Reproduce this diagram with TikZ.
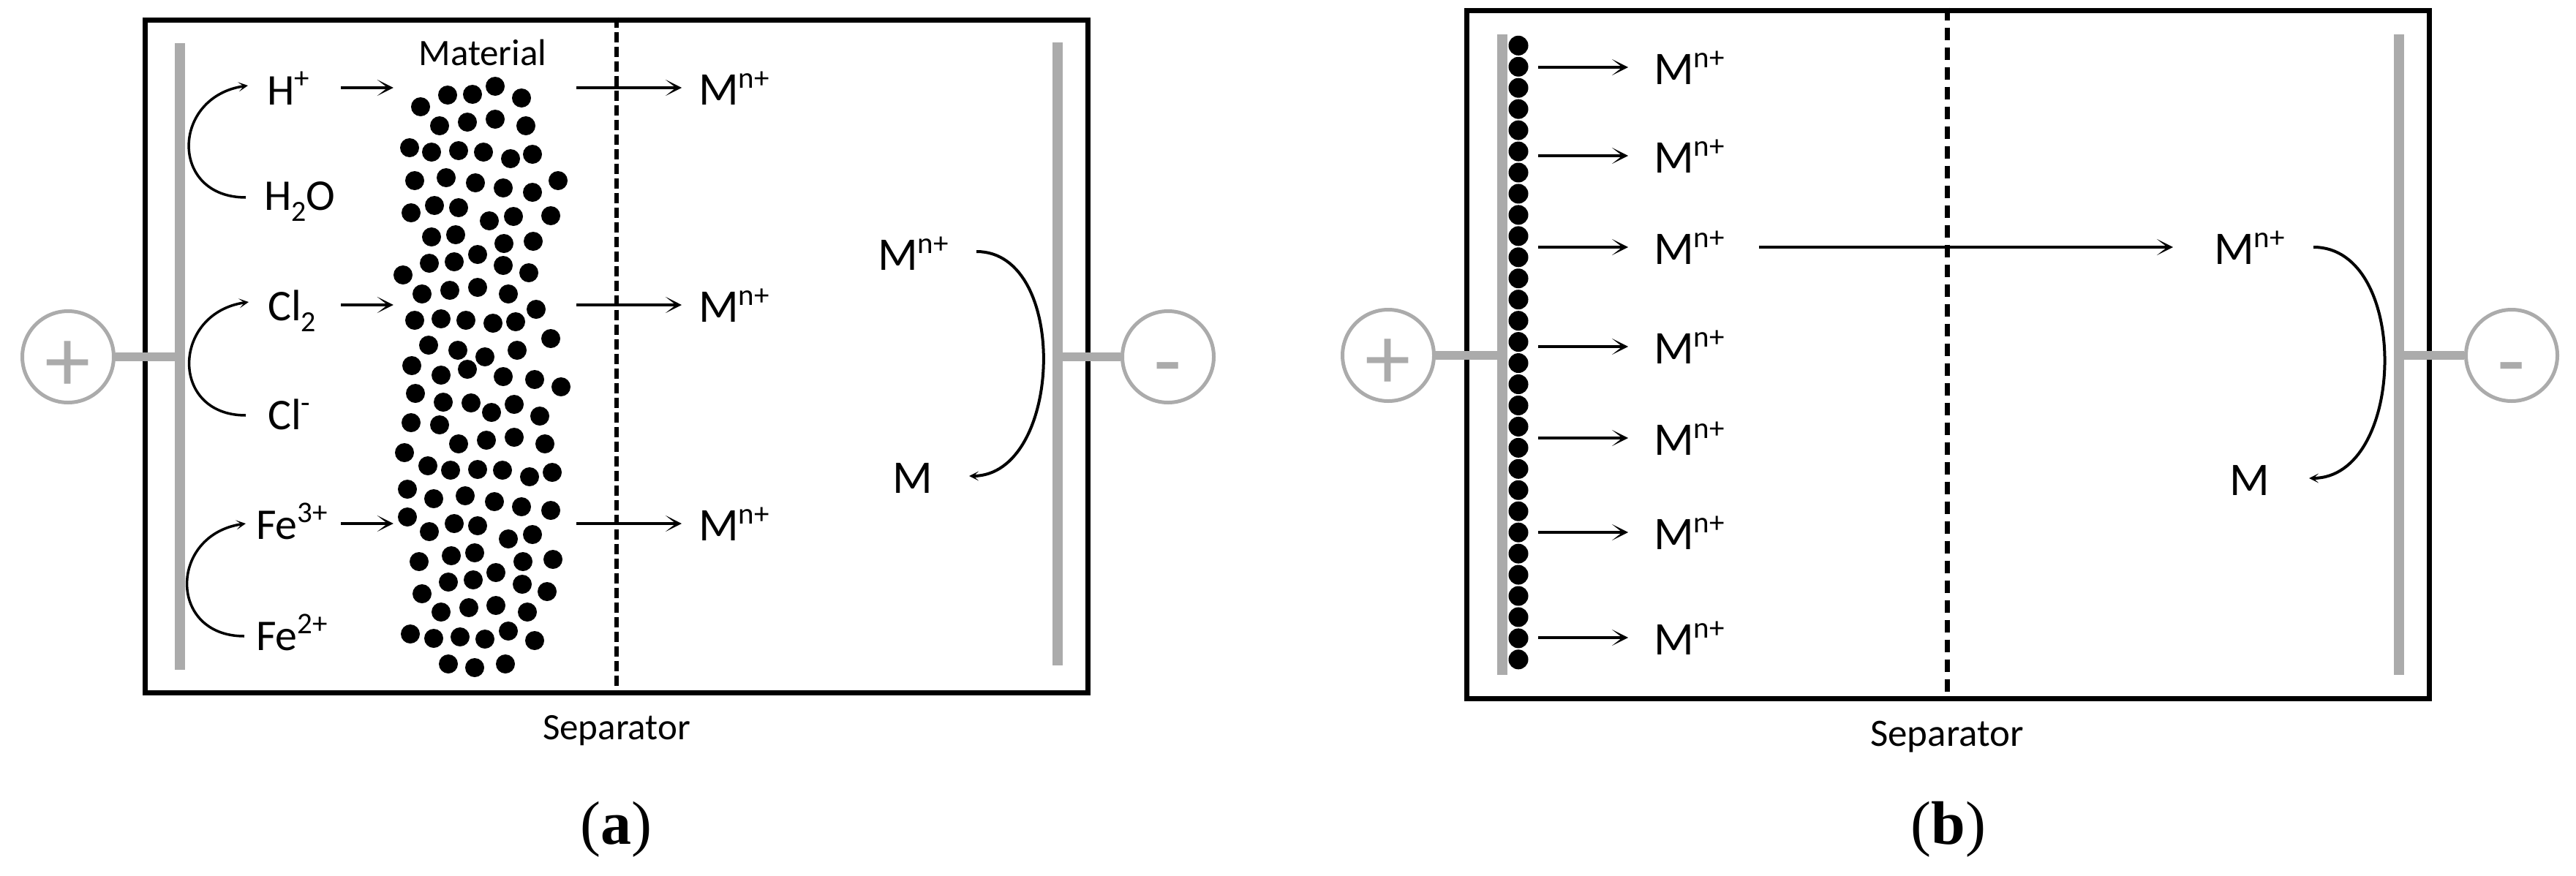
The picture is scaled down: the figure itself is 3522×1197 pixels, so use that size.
\documentclass[tikz,border=0pt]{standalone}
\usepackage{fontspec}
\setmainfont{Carlito}
\newfontfamily\capfont{Liberation Serif}
\usetikzlibrary{arrows.meta}
\definecolor{rodgray}{HTML}{ABABAB}
\newcommand{\ionup}[1]{\raisebox{23pt}{\fontsize{41}{41}\selectfont #1}}
\newcommand{\iondn}[1]{\raisebox{-15pt}{\fontsize{40}{40}\selectfont #1}}
\newcommand{\Mion}{M\ionup{n+}}
\tikzset{
  frame/.style={draw=black,line width=7pt,inner sep=0pt},
  rod/.style={fill=rodgray,inner sep=0pt,minimum width=14pt},
  lead/.style={draw=rodgray,line width=12pt},
  term/.style={circle,draw=rodgray,fill=white,line width=5pt,inner sep=0pt,minimum size=125pt},
  sign/.style={text=rodgray,inner sep=0pt,font=\fontsize{125}{125}\selectfont},
  ion/.style={anchor=west,inner sep=0pt,text height=46pt,text depth=0pt,font=\fontsize{60}{70}\selectfont},
  mion/.style={ion,font=\fontsize{64}{70}\selectfont},
  note/.style={inner sep=0pt,font=\fontsize{51}{60}\selectfont},
  sepline/.style={line width=6pt,dash pattern=on 14pt off 6pt},
  flow/.style={line width=4.5pt,-{Stealth[length=22pt,width=22pt,inset=14pt]}},
  turn/.style={line width=3.5pt,-{Stealth[length=13pt,width=13pt,inset=7pt]}},
  tag/.style={inner sep=0pt,font=\capfont\fontsize{84}{90}\selectfont}
}
\begin{document}
\begin{tikzpicture}[x=1pt,y=-1pt]
\useasboundingbox (0,0) rectangle (3522,1197);
\node[rod,minimum height=852pt] (ra2) at (1446,484) {};
\node[frame,minimum width=1289pt,minimum height=920pt] (fa) at (842.5,487) {};
\node[rod,minimum height=857pt] (ra1) at (246,487.5) {};
\node[term] (pa) at (93,488) {};
\node[sign] at (93,501) {+};
\node[term] (na) at (1597,488) {};
\node[sign] at (1597,516) {-};
\draw[lead] (pa) -- (pa -| ra1);
\draw[lead] (na) -- (na -| ra2);
\node[note] (sa) at (843,999) {Separator};
\draw[sepline] (fa.north -| sa) -- (fa.south -| sa);
\node[note] (mlabel) at (660,72) {Material};
\node[minimum width=250pt,minimum height=800pt,inner sep=0pt] (mat) at (663,510) {};
\foreach \p in {(575,146),(612,130),(646,129),(677,118),(713,134),
  (601,172),(639,167),(677,163),(719,172),
  (560,202),(590,208),(627,206),(661,208),(698,217),(728,211),
  (567,247),(610,243),(650,250),(688,257),(728,263),(763,247),
  (562,291),(594,281),(627,284),(669,302),(702,296),(753,295),
  (590,324),(623,321),(689,333),(729,330),
  (587,360),(621,358),(653,348),(688,363),(723,373),(551,376),
  (577,402),(615,397),(653,393),(695,402),(733,423),
  (567,438),(603,436),(637,438),(674,442),(705,440),(753,463),
  (586,472),(626,479),(663,488),(707,479),
  (563,500),(603,513),(639,505),(688,515),(731,519),(767,529),
  (568,538),(606,550),(644,551),(672,564),(703,553),(738,569),
  (562,578),(601,581),(627,607),(665,602),(703,598),(745,607),
  (553,619),(585,637),(616,643),(653,642),(687,643),(724,652),(755,646),
  (557,669),(593,682),(636,678),(676,686),(713,693),(753,698),
  (557,707),(587,727),(621,716),(653,719),(695,737),(728,731),
  (573,768),(617,760),(649,756),(715,768),(756,765),
  (613,796),(647,793),(678,783),(714,799),(748,809),(577,812),
  (603,837),(641,831),(678,828),(721,837),
  (561,867),(593,873),(629,871),(663,874),(695,863),(731,876),
  (613,908),(649,913),(691,908)}
  \fill \p circle (13);
\coordinate (inl) at (466,0);
\node[ion] (hp) at (365,120) {H\ionup{+}};
\node[ion] (hw) at (361,264) {H\iondn{2}O};
\node[ion,text height=42pt] (clt) at (366,417) {Cl\iondn{2}};
\node[ion] (clb) at (366,564) {Cl\ionup{-}};
\node[ion,text height=42pt] (fet) at (350,716) {Fe\ionup{3+}};
\node[ion] (feb) at (350,866) {Fe\ionup{2+}};
\foreach \a in {hp,clt,fet}
  \draw[flow] (inl |- \a.east) -- (mat.west |- \a.east);
\draw[turn] ([shift={(-25pt,-6pt)}]hw.west) .. controls +(-105,0) and +(-105,15) .. ([shift={(-26pt,3pt)}]hp.west);
\draw[turn] ([shift={(-30pt,-4pt)}]clb.west) .. controls +(-105,0) and +(-105,15) .. ([shift={(-26pt,4pt)}]clt.west);
\draw[turn] ([shift={(-16pt,-4pt)}]feb.west) .. controls +(-105,0) and +(-105,15) .. ([xshift=-14pt]fet.west);
\foreach \n/\y in {1/120,2/417,3/716} {
  \node[mion] (ma\n) at (955,\y) {\Mion};
  \draw[flow] (mat.east |- ma\n.west) -- ([xshift=-23pt]ma\n.west);
}
\node[mion] (mra) at (1200,346) {\Mion};
\node[mion] (mla) at (1220,651) {M};
\draw[turn,line width=4pt] ([shift={(38pt,2pt)}]mra.east) .. controls +(128,0) and +(128,0) .. ([xshift=50pt]mla.east);
\node[tag] (ta) at (842,1134) {(\textbf{a})};
\node[rod,minimum height=876pt] (rb2) at (3280,485) {};
\node[frame,minimum width=1316pt,minimum height=941pt] (fb) at (2663,484.5) {};
\node[rod,minimum height=876pt] (rb1) at (2054,485) {};
\node[term] (pb) at (1898,486) {};
\node[sign] at (1898,498) {+};
\node[term] (nb) at (3434,486) {};
\node[sign] at (3434,516) {-};
\draw[lead] (pb) -- (pb -| rb1);
\draw[lead] (nb) -- (nb -| rb2);
\node[note,font=\fontsize{53}{60}\selectfont] (sb) at (2662,1008) {Separator};
\draw[sepline,line width=7pt,dash pattern=on 17pt off 10pt] (fb.north -| sb) -- (fb.south -| sb);
\foreach \i in {0,...,29}
  \fill ({2076},{62.3+28.95*\i}) circle (13.5);
\coordinate (src) at (2103,0);
\foreach \n/\y in {1/92,2/213,3/338,4/474,5/599,6/728,7/872} {
  \node[mion] (mb\n) at (2261,\y) {\Mion};
  \draw[flow] (src |- mb\n.west) -- ([xshift=-35pt]mb\n.west);
}
\node[mion] (mrb) at (3027,338) {\Mion};
\node[mion] (mlb) at (3048,654) {M};
\draw[flow] ([xshift=47pt]mb3.east) -- ([xshift=-56pt]mrb.west);
\draw[turn,line width=4pt] ([xshift=39pt]mrb.east) .. controls +(133,0) and +(133,0) .. ([xshift=54pt]mlb.east);
\node[tag] (tb) at (2664,1134) {(\textbf{b})};
\end{tikzpicture}
\end{document}
